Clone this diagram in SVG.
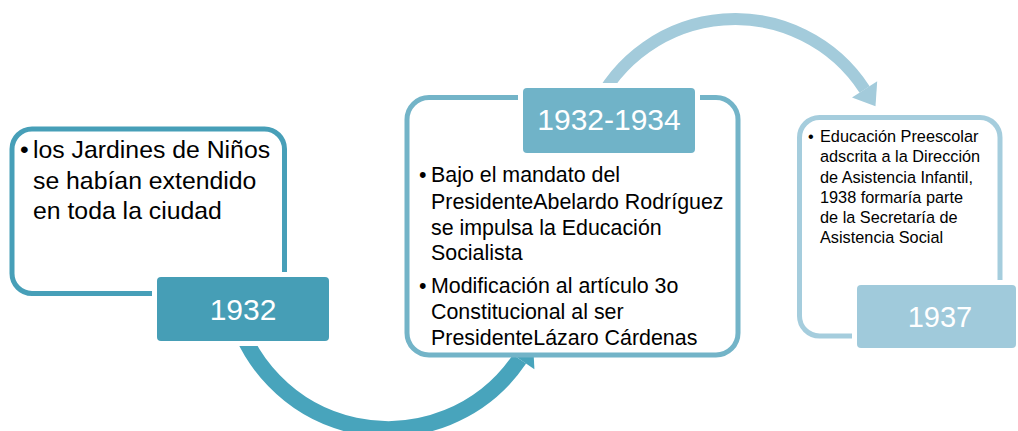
<svg xmlns="http://www.w3.org/2000/svg" width="1018" height="431" viewBox="0 0 1018 431">
<style>
.t{font-family:"Liberation Sans",Arial,sans-serif;fill:#000}
.lab{font-family:"Liberation Sans",Arial,sans-serif;fill:#fff;text-anchor:middle}
.outline{fill:#fff;stroke-width:5}
.tag{stroke:#fff;stroke-width:10;paint-order:stroke}
</style>
<rect width="1018" height="431" fill="#fff"/>
<g id="connectors">
  <path d="M231.8,297.9 A158.6,158.6 0 0 0 519.5,359.1" fill="none" stroke="#48a4bc" stroke-width="16"/>
  <polygon points="534.4,369.2 504.6,349.0 532.9,339.2" fill="#48a4bc"/>
  <path d="M594.2,110 A154.5,154.5 0 0 1 864.6,89.4" fill="none" stroke="#a3cbdb" stroke-width="12"/>
  <polygon points="877.2,81.2 852.0,97.6 875.5,106.2" fill="#a3cbdb"/>
</g>
<g id="node1">
  <rect class="outline" x="12" y="129" width="272.5" height="164.5" rx="20" stroke="#479fb8"/>
  <text class="t" font-size="24.8"><tspan x="20" y="158">•</tspan><tspan x="33" y="158">los Jardines de Niños</tspan><tspan x="33" y="189">se habían extendido</tspan><tspan x="33" y="219">en toda la ciudad</tspan></text>
  <rect class="tag" x="157" y="277" width="172" height="64" rx="4" fill="#469eb6"/>
  <text class="lab" x="243" y="320" font-size="30">1932</text>
</g>
<g id="node2">
  <rect class="outline" x="407" y="97.5" width="331" height="257.5" rx="22" stroke="#73b4c8"/>
  <text class="t" font-size="21.4"><tspan x="419" y="182">•</tspan><tspan x="431" y="182">Bajo el mandato del</tspan><tspan x="431" y="209">PresidenteAbelardo Rodríguez</tspan><tspan x="431" y="235">se impulsa la Educación</tspan><tspan x="431" y="260">Socialista</tspan><tspan x="419" y="293">•</tspan><tspan x="431" y="293">Modificación al artículo 3o</tspan><tspan x="431" y="319">Constitucional al ser</tspan><tspan x="431" y="345">PresidenteLázaro Cárdenas</tspan></text>
  <rect class="tag" x="523" y="88" width="172" height="65" rx="4" fill="#70b3c8"/>
  <text class="lab" x="609" y="130" font-size="30">1932-1934</text>
</g>
<g id="node3">
  <rect class="outline" x="799.5" y="117.5" width="200.5" height="218.5" rx="20" stroke="#a5cddd"/>
  <text class="t" font-size="16.3"><tspan x="808" y="142">•</tspan><tspan x="820" y="142">Educación Preescolar</tspan><tspan x="820" y="162">adscrita a la Dirección</tspan><tspan x="820" y="183">de Asistencia Infantil,</tspan><tspan x="820" y="203">1938 formaría parte</tspan><tspan x="820" y="223">de la Secretaría de</tspan><tspan x="820" y="243">Asistencia Social</tspan></text>
  <rect class="tag" x="857" y="285" width="159" height="63" rx="4" fill="#a0cadb"/>
  <text class="lab" x="940" y="327" font-size="29">1937</text>
</g>
</svg>
